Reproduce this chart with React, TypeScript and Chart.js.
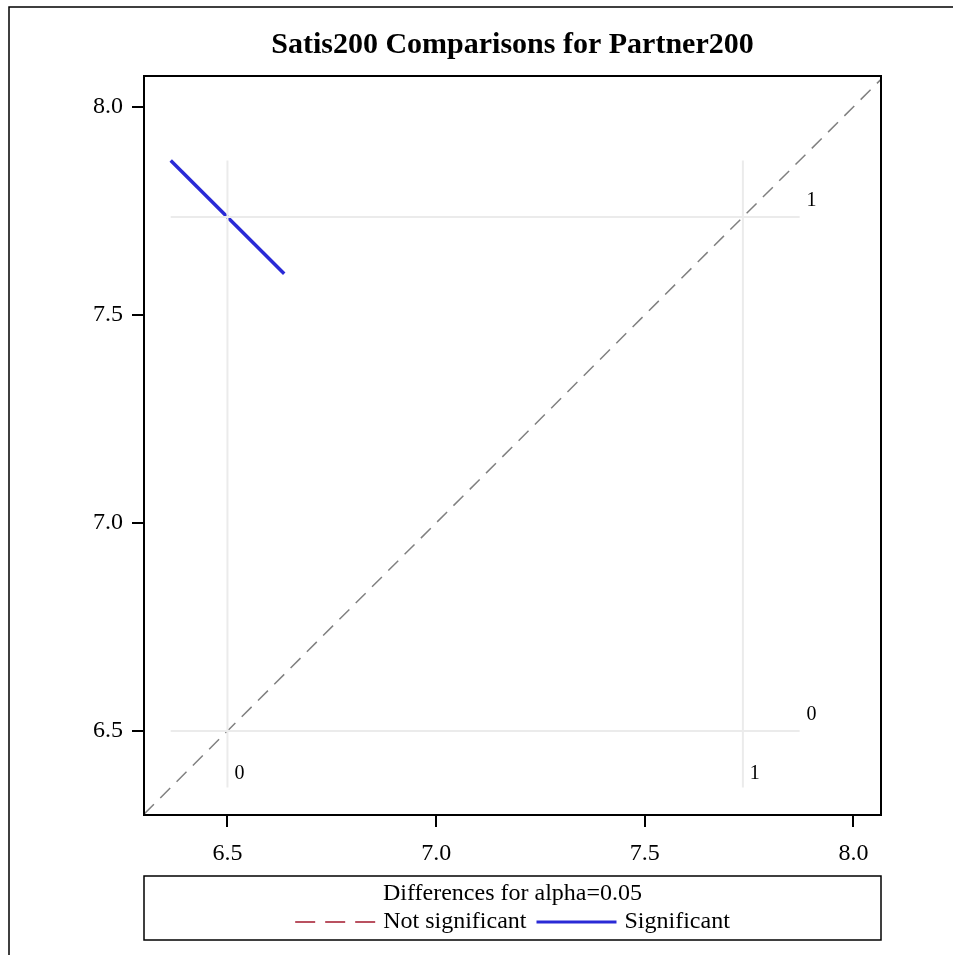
import React, { useEffect, useRef } from "react";
import { Chart, registerables } from "chart.js";

Chart.register(...registerables);

const titleText = "Satis200 Comparisons for Partner200";
const levelNames = ["0", "1"];
const lsMeans = [6.5, 7.735];
const refRange = [6.364, 7.871];
const sigSegment = [
  { x: 6.364, y: 7.871 },
  { x: 6.636, y: 7.599 },
];
const xTicks = [6.5, 7.0, 7.5, 8.0];
const yTicks = [6.5, 7.0, 7.5, 8.0];
const axisMin = [6.3, 6.298];
const axisMax = [8.066, 8.074];
const legendTitle = "Differences for alpha=0.05";
const legendLabels = ["Not significant", "Significant"];

const FONT = "'Liberation Serif', 'Times New Roman', serif";

const framePlugin = {
  id: "framePlugin",
  afterDraw(chart: any) {
    const { ctx, chartArea } = chart;
    const xs = chart.scales.x;
    const ys = chart.scales.y;
    ctx.save();
    // outer border (top/left)
    ctx.strokeStyle = "#000";
    ctx.lineWidth = 1.5;
    ctx.beginPath();
    ctx.moveTo(9, 955);
    ctx.lineTo(9, 7);
    ctx.lineTo(953, 7);
    ctx.stroke();

    // frame
    ctx.lineWidth = 2;
    ctx.strokeRect(chartArea.left, chartArea.top, chartArea.right - chartArea.left, chartArea.bottom - chartArea.top);

    // title
    ctx.fillStyle = "#000";
    ctx.font = `bold 30px ${FONT}`;
    ctx.textAlign = "center";
    ctx.textBaseline = "middle";
    const cx = (chartArea.left + chartArea.right) / 2;
    ctx.fillText(titleText, cx, 45);

    // ref-line labels
    ctx.font = `20px ${FONT}`;
    ctx.textAlign = "left";
    ctx.textBaseline = "middle";
    const yLo = ys.getPixelForValue(refRange[0]);
    const xHi = xs.getPixelForValue(refRange[1]);
    lsMeans.forEach((m, i) => {
      const px = xs.getPixelForValue(m);
      ctx.fillText(levelNames[i], px + 7, yLo - 14);
      const py = ys.getPixelForValue(m);
      ctx.fillText(levelNames[i], xHi + 7, py - 16);
    });

    // legend
    const lx = chartArea.left;
    const lw = chartArea.right - chartArea.left;
    const ly = 876;
    const lh = 64;
    ctx.lineWidth = 1.5;
    ctx.strokeStyle = "#000";
    ctx.strokeRect(lx, ly, lw, lh);
    ctx.font = `24px ${FONT}`;
    ctx.textAlign = "center";
    ctx.fillText(legendTitle, cx, ly + 18);

    const sampleLen = 80;
    const gap = 8;
    const spacing = 10;
    const w1 = ctx.measureText(legendLabels[0]).width;
    const w2 = ctx.measureText(legendLabels[1]).width;
    const total = sampleLen + gap + w1 + spacing + sampleLen + gap + w2;
    let x = cx - total / 2;
    const iy = ly + 46;
    ctx.textAlign = "left";
    ctx.strokeStyle = "#A2182C";
    ctx.lineWidth = 1.5;
    ctx.setLineDash([20, 10]);
    ctx.beginPath();
    ctx.moveTo(x, iy);
    ctx.lineTo(x + sampleLen, iy);
    ctx.stroke();
    ctx.setLineDash([]);
    x += sampleLen + gap;
    ctx.fillText(legendLabels[0], x, iy);
    x += w1 + spacing;
    ctx.strokeStyle = "#2A2AD6";
    ctx.lineWidth = 3;
    ctx.beginPath();
    ctx.moveTo(x, iy);
    ctx.lineTo(x + sampleLen, iy);
    ctx.stroke();
    x += sampleLen + gap;
    ctx.fillText(legendLabels[1], x, iy);
    ctx.restore();
  },
};

export default function App() {
  const ref = useRef<HTMLCanvasElement | null>(null);
  useEffect(() => {
    document.body.style.margin = "0";
    const canvas = ref.current!;
    const refSets = [
      ...lsMeans.map((m) => ({
        data: [
          { x: m, y: refRange[0] },
          { x: m, y: refRange[1] },
        ],
      })),
      ...lsMeans.map((m) => ({
        data: [
          { x: refRange[0], y: m },
          { x: refRange[1], y: m },
        ],
      })),
    ].map((d) => ({
      ...d,
      showLine: true,
      borderColor: "#EBEBEB",
      borderWidth: 2,
      pointRadius: 0,
    }));

    const chart = new Chart(canvas, {
      type: "scatter",
      data: {
        datasets: [
          ...refSets,
          {
            data: [
              { x: axisMin[0], y: axisMin[0] },
              { x: axisMax[1] + 0.2, y: axisMax[1] + 0.2 },
            ],
            showLine: true,
            borderColor: "#808080",
            borderWidth: 1.5,
            borderDash: [14, 9],
            pointRadius: 0,
          },
          {
            data: sigSegment,
            showLine: true,
            borderColor: "#2A2AD6",
            borderWidth: 3.5,
            pointRadius: 0,
          },
        ] as any,
      },
      options: {
        animation: false,
        responsive: false,
        events: [],
        layout: { padding: { left: 0, right: 72, top: 76, bottom: 0 } },
        plugins: { legend: { display: false }, title: { display: false }, tooltip: { enabled: false } },
        scales: {
          x: {
            type: "linear",
            min: axisMin[0],
            max: axisMax[0],
            afterBuildTicks: (s: any) => {
              s.ticks = xTicks.map((v) => ({ value: v }));
            },
            afterFit: (s: any) => {
              s.height = 140;
            },
            ticks: {
              color: "#000",
              font: { family: FONT, size: 24 },
              padding: 12,
              maxRotation: 0,
              callback: (v: any) => Number(v).toFixed(1),
            },
            grid: { drawOnChartArea: false, drawTicks: true, tickLength: 12, color: "#000", lineWidth: 2 },
            border: { display: false },
          },
          y: {
            type: "linear",
            min: axisMin[1],
            max: axisMax[1],
            afterBuildTicks: (s: any) => {
              s.ticks = yTicks.map((v) => ({ value: v }));
            },
            afterFit: (s: any) => {
              s.width = 144;
            },
            ticks: {
              color: "#000",
              font: { family: FONT, size: 24 },
              padding: 9,
              callback: (v: any) => Number(v).toFixed(1),
            },
            grid: { drawOnChartArea: false, drawTicks: true, tickLength: 12, color: "#000", lineWidth: 2 },
            border: { display: false },
          },
        },
      },
      plugins: [framePlugin],
    });
    return () => chart.destroy();
  }, []);
  return <canvas ref={ref} width={953} height={955} style={{ display: "block", width: 953, height: 955 }} />;
}
